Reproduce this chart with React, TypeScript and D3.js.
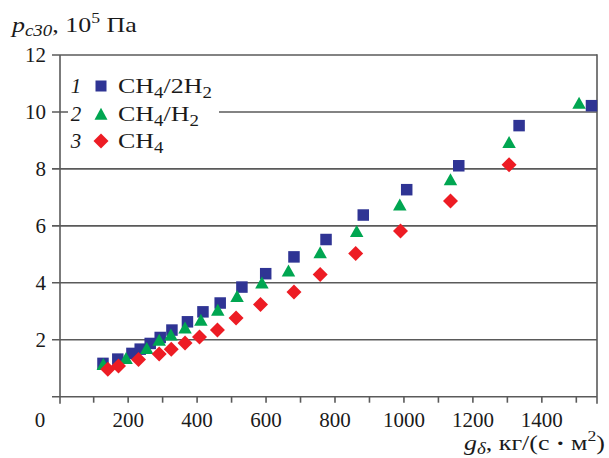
import React from "react";
import * as d3 from "d3";

const blueX = [127, 170, 211, 235, 264, 293, 327, 372, 417, 467, 530, 599, 681, 774, 882, 1008, 1159, 1334, 1544];
const blueY = [1.17, 1.32, 1.52, 1.67, 1.87, 2.08, 2.34, 2.63, 2.98, 3.29, 3.85, 4.32, 4.91, 5.52, 6.38, 7.27, 8.11, 9.52, 10.22];
const greenX = [128, 194, 254, 290, 324, 365, 411, 460, 516, 588, 665, 757, 863, 988, 1135, 1305, 1508];
const greenY = [1.11, 1.32, 1.67, 1.96, 2.14, 2.39, 2.66, 3.01, 3.49, 3.97, 4.39, 5.03, 5.78, 6.71, 7.59, 8.9, 10.28];
const redX = [141, 172, 230, 290, 325, 365, 407, 459, 513, 584, 681, 757, 860, 990, 1135, 1305];
const redY = [0.96, 1.08, 1.31, 1.5, 1.67, 1.89, 2.1, 2.34, 2.76, 3.24, 3.68, 4.29, 5.03, 5.82, 6.87, 8.15];

const xTicksMinor = d3.range(100, 1600, 100);
const xTickLabels = [200, 400, 600, 800, 1000, 1200, 1400];
const yTicks = [2, 4, 6, 8, 10, 12];

const legendNums = ["1", "2", "3"];

const BLUE = "#2f3494";
const GREEN = "#00a651";
const RED = "#ed1c24";
const GRID = "#5a5a5a";
const TXT = "#1a1a1a";
const FONT = "'Liberation Serif', 'Times New Roman', serif";
const STRETCH = 1.18;

function Square({ cx, cy, s = 11.5 }: { cx: number; cy: number; s?: number }) {
  return <rect x={cx - s / 2} y={cy - s / 2} width={s} height={s} fill={BLUE} />;
}
function Tri({ cx, cy, w = 13.5, h = 12 }: { cx: number; cy: number; w?: number; h?: number }) {
  const p = d3.path();
  p.moveTo(cx, cy - h * 0.6);
  p.lineTo(cx + w / 2, cy + h * 0.4);
  p.lineTo(cx - w / 2, cy + h * 0.4);
  p.closePath();
  return <path d={p.toString()} fill={GREEN} />;
}
function Diamond({ cx, cy, r = 7.5 }: { cx: number; cy: number; r?: number }) {
  const p = d3.path();
  p.moveTo(cx, cy - r);
  p.lineTo(cx + r, cy);
  p.lineTo(cx, cy + r);
  p.lineTo(cx - r, cy);
  p.closePath();
  return <path d={p.toString()} fill={RED} />;
}

export default function App() {
  const W = 609;
  const H = 458;
  const left = 60;
  const right = 597;
  const top = 55;
  const bottom = 396.7;
  const x = d3.scaleLinear().domain([0, 1560]).range([59.2, right]);
  const y = d3.scaleLinear().domain([0, 12]).range([bottom, top]);

  const legendRows = [
    { y: 86, kind: "sq", label: [["CH", 0], ["4", 1], ["/2H", 0], ["2", 1]] },
    { y: 114, kind: "tri", label: [["CH", 0], ["4", 1], ["/H", 0], ["2", 1]] },
    { y: 141, kind: "dia", label: [["CH", 0], ["4", 1]] },
  ];

  return (
    <svg
      width={W}
      height={H}
      style={{ position: "absolute", left: 0, top: 0, background: "#fff" }}
      fontFamily={FONT}
    >
      {yTicks.map((t) => (
        <line key={t} x1={52} x2={right} y1={y(t)} y2={y(t)} stroke={GRID} strokeWidth={1.6} />
      ))}
      <line x1={52} x2={right} y1={bottom} y2={bottom} stroke={GRID} strokeWidth={1.6} />
      <line x1={left} x2={left} y1={top} y2={bottom + 7} stroke={GRID} strokeWidth={1.6} />
      <line x1={right} x2={right} y1={top - 0.8} y2={bottom + 7} stroke={GRID} strokeWidth={1.6} />
      {xTicksMinor.map((t) => (
        <line key={t} x1={x(t)} x2={x(t)} y1={bottom} y2={bottom + 6} stroke={GRID} strokeWidth={1.6} />
      ))}
      {xTickLabels.map((t) => (
        <text key={t} x={x(t)} y={427} textAnchor="middle" fontSize={21} fill={TXT}>
          {t}
        </text>
      ))}
      <text x={40} y={427} textAnchor="middle" fontSize={21} fill={TXT}>
        0
      </text>
      {yTicks.map((t) => (
        <text key={t} x={46} y={y(t) + 7} textAnchor="end" fontSize={21} fill={TXT}>
          {t}
        </text>
      ))}
      <rect x={68} y={64} width={151} height={92} fill="#fff" />
      {legendRows.map((r, i) => (
        <g key={i}>
          <text x={76} y={r.y + 7} textAnchor="middle" fontSize={21} fontStyle="italic" fill={TXT}>
            {legendNums[i]}
          </text>
          {r.kind === "sq" && <Square cx={101} cy={r.y} s={11} />}
          {r.kind === "tri" && <Tri cx={101} cy={r.y + 1} w={13} h={12} />}
          {r.kind === "dia" && <Diamond cx={101} cy={r.y} r={7.5} />}
          <g transform={`translate(118,${r.y + 7}) scale(${STRETCH},1)`}>
            <text x={0} y={0} fontSize={22} fill={TXT}>
              {r.label.map(([s, sub], j) =>
                sub ? (
                  <tspan key={j} fontSize={16} dy={4.5}>
                    {s}
                  </tspan>
                ) : (
                  <tspan key={j} dy={j === 0 ? 0 : -4.5}>
                    {s}
                  </tspan>
                )
              )}
            </text>
          </g>
        </g>
      ))}
      {blueX.map((v, i) => (
        <Square key={"b" + i} cx={x(v)} cy={y(blueY[i])} />
      ))}
      {greenX.map((v, i) => (
        <Tri key={"g" + i} cx={x(v)} cy={y(greenY[i])} />
      ))}
      {redX.map((v, i) => (
        <Diamond key={"r" + i} cx={x(v)} cy={y(redY[i])} />
      ))}
      <g transform={`translate(12,32) scale(${STRETCH},1)`}>
        <text x={0} y={0} fontSize={22} fill={TXT}>
          <tspan fontStyle="italic">p</tspan>
          <tspan fontStyle="italic" fontSize={16} dy={4}>
            c30
          </tspan>
          <tspan dy={-4}>, 10</tspan>
          <tspan fontSize={15} dy={-9}>
            5
          </tspan>
          <tspan dy={9}> Па</tspan>
        </text>
      </g>
      <g transform={`translate(605,450) scale(${STRETCH},1)`}>
        <text x={0} y={0} textAnchor="end" fontSize={22} fill={TXT}>
          <tspan fontStyle="italic">g</tspan>
          <tspan fontStyle="italic" fontSize={16} dy={4}>
            δ
          </tspan>
          <tspan dy={-4}>, кг/(с </tspan>
          <tspan fontWeight="bold">·</tspan>
          <tspan> м</tspan>
          <tspan fontSize={15} dy={-9}>
            2
          </tspan>
          <tspan dy={9}>)</tspan>
        </text>
      </g>
    </svg>
  );
}
